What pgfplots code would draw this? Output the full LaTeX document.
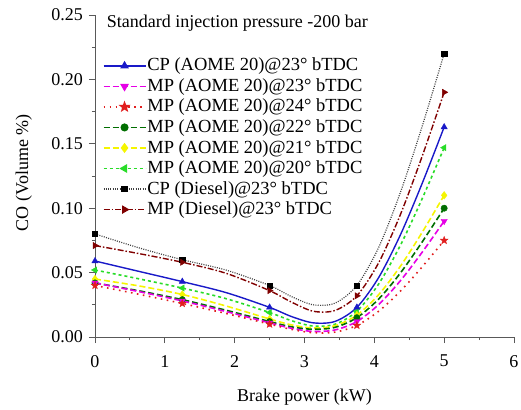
\documentclass[border=0pt]{standalone}
\usepackage{pgfplots}
\pgfplotsset{compat=1.18}
\usepackage{pgfplotstable}
\usepackage{fontspec}
\setmainfont{Liberation Serif}
\definecolor{cblue}{RGB}{25,25,200}
\definecolor{cmag}{RGB}{230,0,230}
\definecolor{cred}{RGB}{225,30,30}
\definecolor{cdgreen}{RGB}{0,110,0}
\definecolor{cyellow}{RGB}{245,245,0}
\definecolor{clgreen}{RGB}{40,220,40}
\definecolor{mpdred}{RGB}{128,0,0}
\pgfdeclareplotmark{fstar}{%
 \pgfpathmoveto{\pgfpointpolar{90}{\pgfplotmarksize}}%
 \pgfpathlineto{\pgfpointpolar{126}{0.42*\pgfplotmarksize}}%
 \pgfpathlineto{\pgfpointpolar{162}{\pgfplotmarksize}}%
 \pgfpathlineto{\pgfpointpolar{198}{0.42*\pgfplotmarksize}}%
 \pgfpathlineto{\pgfpointpolar{234}{\pgfplotmarksize}}%
 \pgfpathlineto{\pgfpointpolar{270}{0.42*\pgfplotmarksize}}%
 \pgfpathlineto{\pgfpointpolar{306}{\pgfplotmarksize}}%
 \pgfpathlineto{\pgfpointpolar{342}{0.42*\pgfplotmarksize}}%
 \pgfpathlineto{\pgfpointpolar{18}{\pgfplotmarksize}}%
 \pgfpathlineto{\pgfpointpolar{54}{0.42*\pgfplotmarksize}}%
 \pgfpathclose
 \pgfusepathqfillstroke}
% measured points
\pgfplotstableread{
x cpd mpd cpa m20 m21 m22 m23 m24
0 0.080 0.071 0.059 0.052 0.045 0.042 0.042 0.040
1.25 0.060 0.058 0.043 0.038 0.033 0.029 0.028 0.026
2.5 0.040 0.036 0.023 0.019 0.014 0.012 0.011 0.010
3.75 0.040 0.032 0.023 0.020 0.017 0.015 0.012 0.009
5 0.220 0.190 0.163 0.147 0.110 0.100 0.090 0.075
}\marks
% fitted curves as drawn in the chart
\pgfplotstableread{
x cpd mpd cpa m20 m21 m22 m23 m24
0 0.080 0.071 0.059 0.052 0.045 0.042 0.042 0.040
0.625 0.0693 0.0648 0.051 0.0452 0.0397 0.0359 0.0353 0.0332
1.25 0.060 0.058 0.043 0.038 0.033 0.029 0.028 0.026
1.875 0.0520 0.0495 0.0345 0.0298 0.0241 0.0208 0.0198 0.0183
2.5 0.040 0.036 0.023 0.019 0.014 0.012 0.011 0.010
2.8125 0.0314 0.0271 0.0159 0.0127 0.0094 0.0079 0.0068 0.0059
3.125 0.025 0.020 0.011 0.0085 0.007 0.006 0.0043 0.0033
3.4375 0.0263 0.0206 0.0121 0.0099 0.0088 0.0075 0.0055 0.0038
3.75 0.040 0.032 0.023 0.020 0.017 0.015 0.012 0.009
4.0625 0.0696 0.0577 0.0462 0.0412 0.0329 0.0295 0.0252 0.0200
4.375 0.1125 0.0953 0.0795 0.0714 0.0551 0.0498 0.0438 0.0357
4.6875 0.1640 0.1407 0.1196 0.1077 0.0815 0.0740 0.0660 0.0546
5 0.220 0.190 0.163 0.147 0.110 0.100 0.090 0.075
}\curves
\pgfplotsset{
 lcpd/.style={black!75, line width=1.2pt, dash pattern=on 1pt off 1.3pt},
 mcpd/.style={mark=square*, mark size=2.6pt, mark options={solid, black, fill=black}},
 lmpd/.style={mpdred, line width=1.4pt, dash pattern=on 6pt off 2pt on 1.5pt off 2pt},
 mmpd/.style={mark=triangle*, mark size=3.6pt, mark options={solid, rotate=-90, mpdred, fill=mpdred}},
 lcpa/.style={cblue, line width=1.4pt, solid},
 mcpa/.style={mark=triangle*, mark size=3.6pt, mark options={solid, cblue, fill=cblue}},
 l20/.style={clgreen, line width=1.6pt, dash pattern=on 3pt off 3pt},
 m20/.style={mark=triangle*, mark size=3.6pt, mark options={solid, rotate=90, clgreen, fill=clgreen}},
 l21/.style={cyellow, line width=1.6pt, dash pattern=on 6pt off 3pt},
 m21/.style={mark=diamond*, mark size=3.8pt, mark options={solid, cyellow, fill=cyellow}},
 l22/.style={cdgreen, line width=1.6pt, dash pattern=on 6pt off 3pt},
 m22/.style={mark=*, mark size=3.2pt, mark options={solid, cdgreen, fill=cdgreen}},
 l23/.style={cmag, line width=1.6pt, dash pattern=on 6pt off 3pt},
 m23/.style={mark=triangle*, mark size=3.6pt, mark options={solid, rotate=180, cmag, fill=cmag}},
 l24/.style={cred, line width=1.6pt, dash pattern=on 1.6pt off 4.5pt},
 m24/.style={mark=fstar, mark size=4pt, mark options={solid, cred, fill=cred}},
}
\begin{document}
\fontsize{18}{21}\selectfont
\begin{tikzpicture}
\path[use as bounding box] (-95pt,-72pt) rectangle (426pt,337pt);
\begin{axis}[
 at={(0pt,0pt)}, anchor=south west,
 scale only axis, width=419pt, height=322pt,
 xmin=0, xmax=6, ymin=0, ymax=0.25,
 axis x line*=bottom, axis y line*=left,
 xtick={0,1,2,3,4,5,6},
 ytick={0,0.05,0.1,0.15,0.2,0.25},
 minor x tick num=1, minor y tick num=1,
 yticklabel style={/pgf/number format/.cd, fixed, fixed zerofill, precision=2},
 xticklabel style={yshift=-6pt},
 /pgf/number format/assume math mode=true,
 tick align=outside, major tick length=6pt, minor tick length=3pt,
 tick style={black!65, line width=0.9pt},
 axis line style={black!65, line width=0.9pt, -},
 xlabel={Brake power (kW)}, ylabel={CO (Volume \%)},
 xlabel style={at={(axis description cs:0.5,-0.186)}, anchor=center},
 ylabel style={at={(axis description cs:-0.17,0.51)}, anchor=center},
 legend style={draw=none, fill=none, at={(axis description cs:0.018,0.87)}, anchor=north west,
   font=\fontsize{18.5}{20}\selectfont, row sep=3pt, inner sep=0pt, nodes={inner sep=1pt}},
 legend cell align=left,
 legend image code/.code={\draw[mark repeat=2,mark phase=2] plot coordinates {(0pt,0pt)(21pt,0pt)(42pt,0pt)};},
]
\addplot[lcpd, smooth, forget plot] table[x=x,y=cpd]{\curves};
\addplot[lmpd, smooth, forget plot] table[x=x,y=mpd]{\curves};
\addplot[l20, smooth, forget plot] table[x=x,y=m20]{\curves};
\addplot[l21, smooth, forget plot] table[x=x,y=m21]{\curves};
\addplot[l22, smooth, forget plot] table[x=x,y=m22]{\curves};
\addplot[l23, smooth, forget plot] table[x=x,y=m23]{\curves};
\addplot[l24, smooth, forget plot] table[x=x,y=m24]{\curves};
\addplot[lcpa, smooth, forget plot] table[x=x,y=cpa]{\curves};
\addplot[only marks, mcpd, forget plot] table[x=x,y=cpd]{\marks};
\addplot[only marks, mmpd, forget plot] table[x=x,y=mpd]{\marks};
\addplot[only marks, m20, forget plot] table[x=x,y=m20]{\marks};
\addplot[only marks, m21, forget plot] table[x=x,y=m21]{\marks};
\addplot[only marks, m22, forget plot] table[x=x,y=m22]{\marks};
\addplot[only marks, m23, forget plot] table[x=x,y=m23]{\marks};
\addplot[only marks, m24, forget plot] table[x=x,y=m24]{\marks};
\addplot[only marks, mcpa, forget plot] table[x=x,y=cpa]{\marks};
\addlegendimage{lcpa, mcpa}\addlegendentry{CP (AOME 20)@23° bTDC}
\addlegendimage{l23, m23}\addlegendentry{MP (AOME 20)@23° bTDC}
\addlegendimage{l24, m24}\addlegendentry{MP (AOME 20)@24° bTDC}
\addlegendimage{l22, m22}\addlegendentry{MP (AOME 20)@22° bTDC}
\addlegendimage{l21, m21}\addlegendentry{MP (AOME 20)@21° bTDC}
\addlegendimage{l20, m20}\addlegendentry{MP (AOME 20)@20° bTDC}
\addlegendimage{lcpd, mcpd}\addlegendentry{CP (Diesel)@23° bTDC}
\addlegendimage{lmpd, mmpd}\addlegendentry{MP (Diesel)@23° bTDC}
\node[anchor=west, inner sep=0pt] at (rel axis cs:0.028,0.975) {Standard injection pressure -200 bar};
\end{axis}
\end{tikzpicture}
\end{document}
